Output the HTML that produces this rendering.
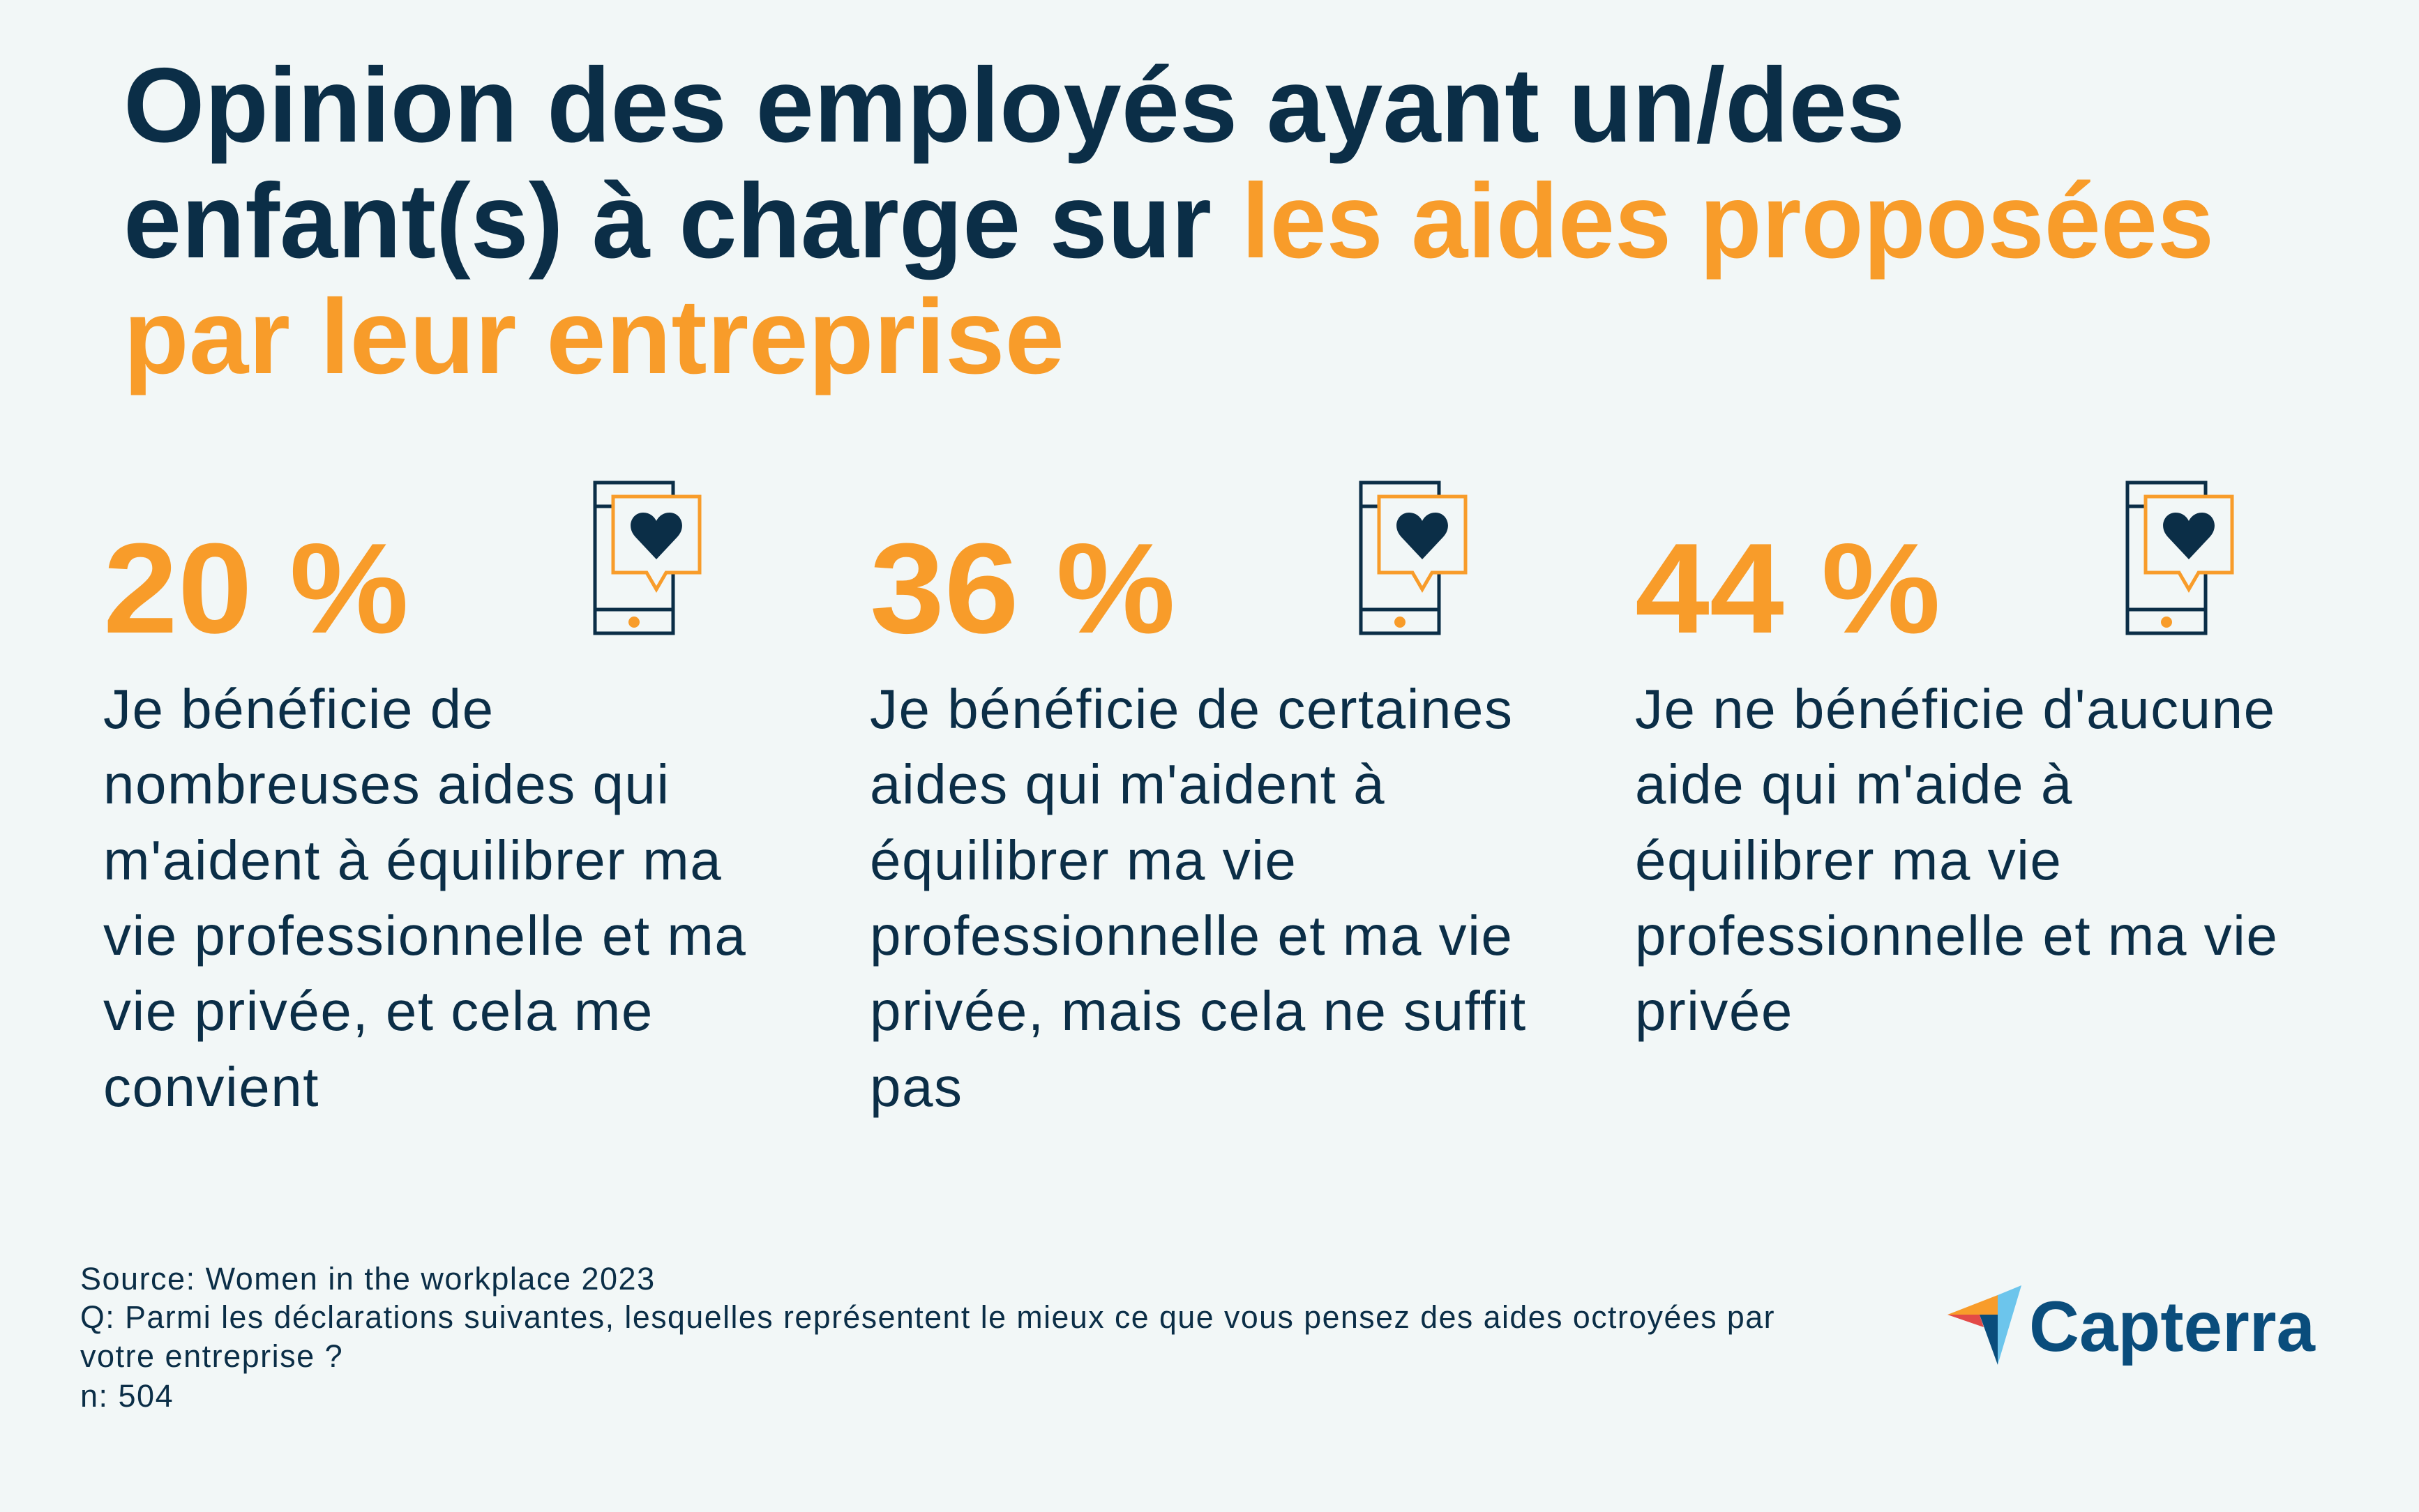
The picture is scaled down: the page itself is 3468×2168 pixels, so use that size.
<!DOCTYPE html>
<html><head><meta charset="utf-8"><style>
html,body{margin:0;padding:0;background:#f2f7f7}
svg{display:block}
text{font-family:"Liberation Sans",sans-serif}
</style></head><body>
<svg width="3468" height="2168" viewBox="0 0 3468 2168">
<rect width="3468" height="2168" fill="#f2f7f7"/>
<g font-weight="bold" font-size="152" fill="#0b2e47">
<text x="177" y="203" textLength="2554" lengthAdjust="spacingAndGlyphs">Opinion des employés ayant un/des</text>
<text x="177" y="369"><tspan textLength="1560" lengthAdjust="spacingAndGlyphs">enfant(s) à charge sur</tspan><tspan x="1780" fill="#f89c2a" textLength="1394" lengthAdjust="spacingAndGlyphs">les aides proposées</tspan></text>
<text x="177" y="535" fill="#f89c2a" textLength="1349" lengthAdjust="spacingAndGlyphs">par leur entreprise</text>
</g>
<defs>
<g id="icon">
<rect x="853" y="692" width="112" height="216" fill="none" stroke="#0b2e47" stroke-width="5"/>
<line x1="853" y1="726" x2="880" y2="726" stroke="#0b2e47" stroke-width="5"/>
<line x1="853" y1="874" x2="965" y2="874" stroke="#0b2e47" stroke-width="5"/>
<circle cx="909" cy="892" r="8" fill="#f89c2a"/>
<path d="M879 712 H1003 V821 H955 L941 845 L927 821 H879 Z" fill="#f2f7f7" stroke="#f89c2a" stroke-width="5"/>
<path d="M941 802 L911 770 C897 755 906 735 922 735 C932 735 938 741 941 747 C944 741 950 735 960 735 C976 735 985 755 971 770 Z" fill="#0b2e47"/>
</g>
</defs>
<use href="#icon"/>
<use href="#icon" x="1098"/>
<use href="#icon" x="2197"/>
<g font-weight="bold" font-size="184" fill="#f89c2a">
<text x="148" y="907" textLength="438" lengthAdjust="spacingAndGlyphs">20 %</text>
<text x="1247" y="907" textLength="438" lengthAdjust="spacingAndGlyphs">36 %</text>
<text x="2344" y="907" textLength="438" lengthAdjust="spacingAndGlyphs">44 %</text>
</g>
<g font-size="80" fill="#0b2e47" letter-spacing="1.5">
<g>
<text x="148" y="1044">Je bénéficie de</text>
<text x="148" y="1152">nombreuses aides qui</text>
<text x="148" y="1261">m'aident à équilibrer ma</text>
<text x="148" y="1369">vie professionnelle et ma</text>
<text x="148" y="1477">vie privée, et cela me</text>
<text x="148" y="1586">convient</text>
</g>
<g>
<text x="1247" y="1044">Je bénéficie de certaines</text>
<text x="1247" y="1152">aides qui m'aident à</text>
<text x="1247" y="1261">équilibrer ma vie</text>
<text x="1247" y="1369">professionnelle et ma vie</text>
<text x="1247" y="1477">privée, mais cela ne suffit</text>
<text x="1247" y="1586">pas</text>
</g>
<g>
<text x="2344" y="1044">Je ne bénéficie d'aucune</text>
<text x="2344" y="1152">aide qui m'aide à</text>
<text x="2344" y="1261">équilibrer ma vie</text>
<text x="2344" y="1369">professionnelle et ma vie</text>
<text x="2344" y="1477">privée</text>
</g>
</g>
<g font-size="45" fill="#0b2e47" letter-spacing="1.5">
<text x="115" y="1849">Source: Women in the workplace 2023</text>
<text x="115" y="1904" textLength="2430" lengthAdjust="spacingAndGlyphs">Q: Parmi les déclarations suivantes, lesquelles représentent le mieux ce que vous pensez des aides octroyées par</text>
<text x="115" y="1960">votre entreprise ?</text>
<text x="115" y="2017">n: 504</text>
</g>
<g>
<polygon points="2792,1885 2864,1857 2864,1885" fill="#f89c2a"/>
<polygon points="2864,1857 2898,1843 2864,1957" fill="#6cc5ec"/>
<polygon points="2792,1885 2838,1885 2844,1903" fill="#e34a47"/>
<polygon points="2838,1885 2864,1885 2864,1957" fill="#0a4d7c"/>
<text x="2909" y="1937" font-size="102" font-weight="bold" fill="#0a4d7c" textLength="410" lengthAdjust="spacingAndGlyphs">Capterra</text>
</g>
</svg>
</body></html>
